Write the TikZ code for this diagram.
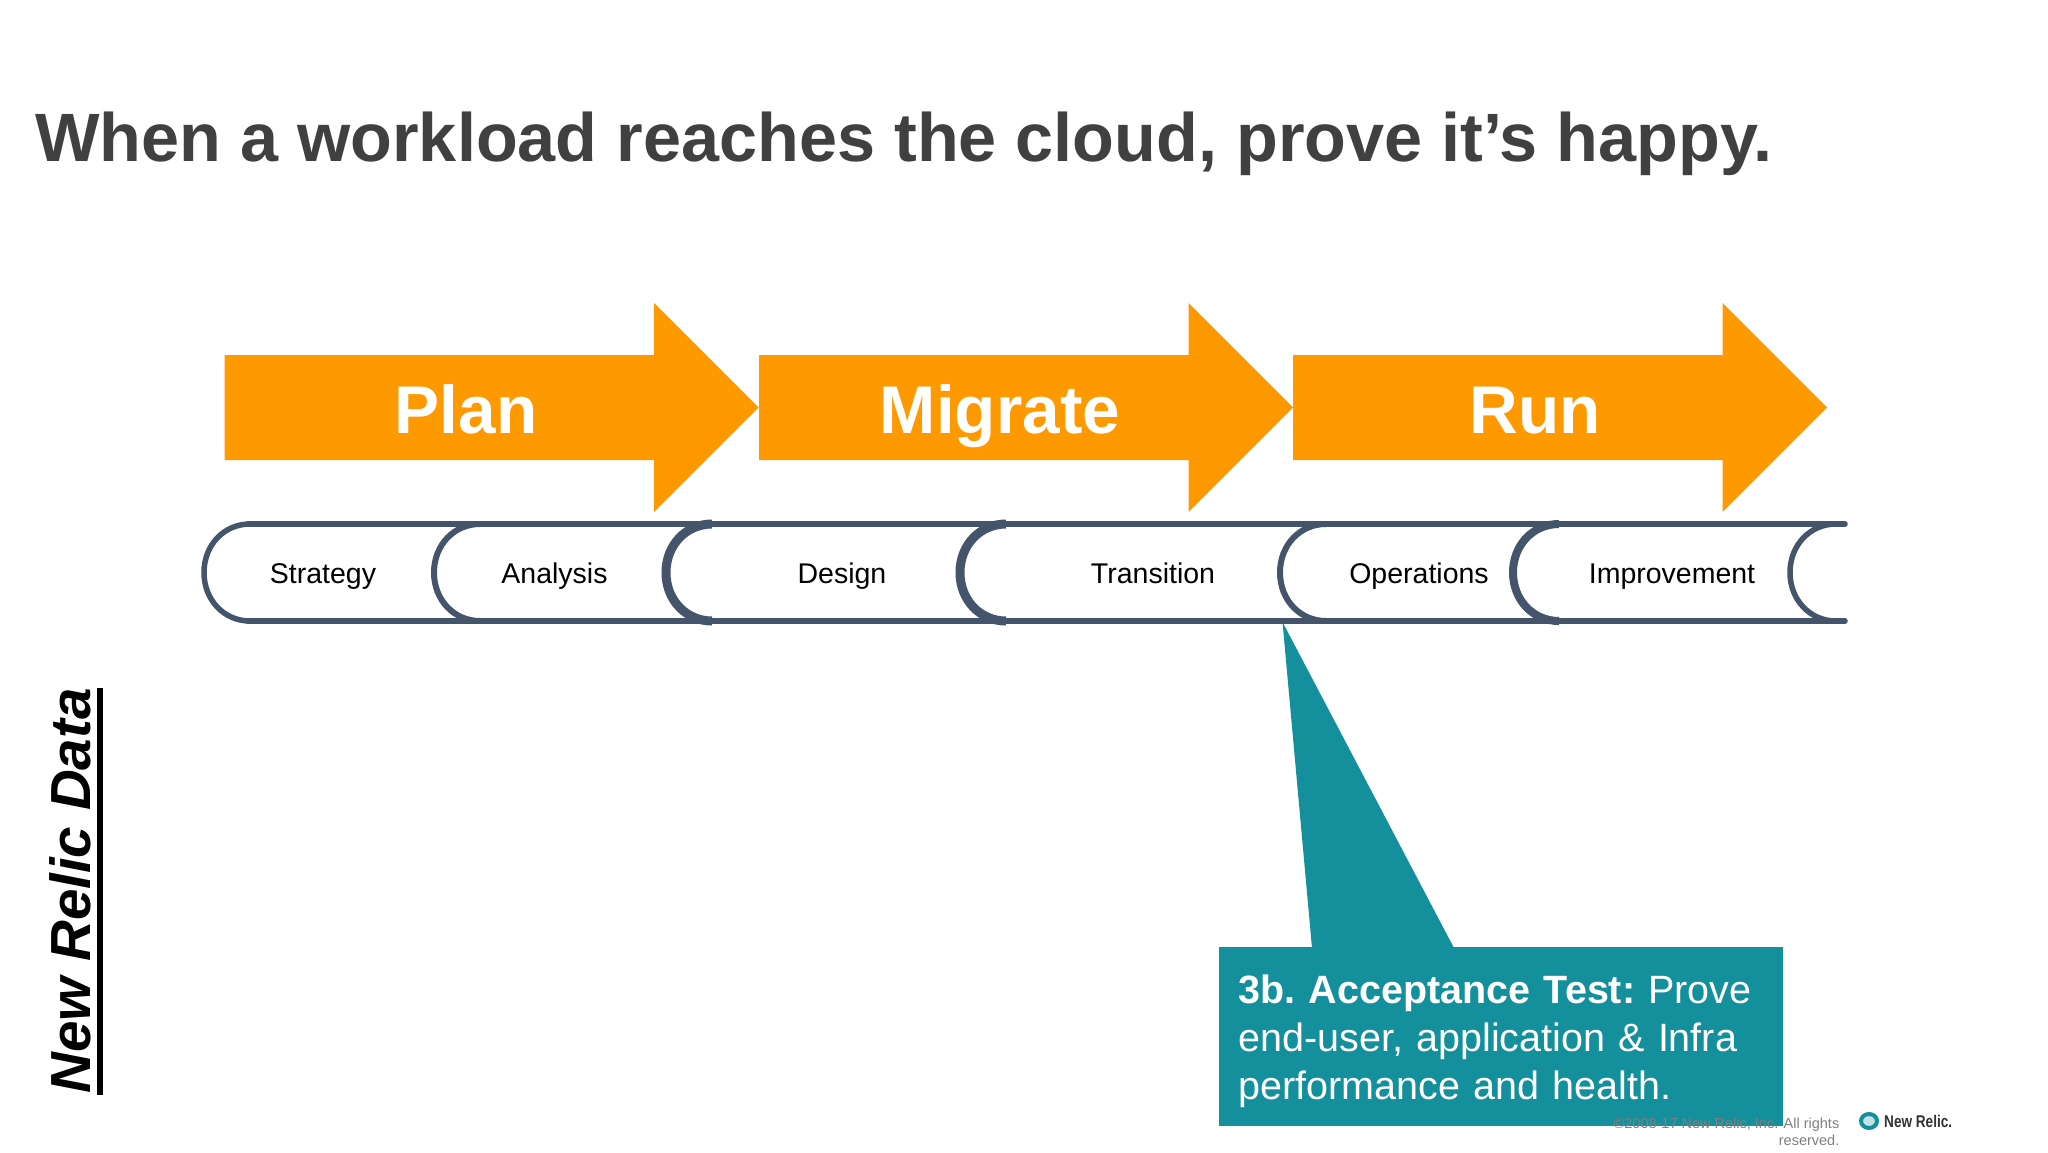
\documentclass[tikz,border=0pt]{standalone}
\usepackage{fontspec}
\setmainfont{Liberation Sans}
\definecolor{orangeA}{HTML}{FF9900}
\definecolor{tealA}{HTML}{148F9C}
\definecolor{slateA}{HTML}{44546A}
\definecolor{titleA}{HTML}{404040}
\tikzset{
  phase/.style={fill=orangeA,draw=none},
  phaselabel/.style={anchor=base,text=white,font=\fontsize{67.5}{70}\selectfont\bfseries,inner sep=0pt},
  scoop/.style={draw=slateA,line width=5.5pt,line cap=round},
  stage/.style={anchor=base,text=black,font=\fontsize{28.5}{32}\selectfont,inner sep=0pt},
}
\newcommand{\phasearrow}[4]{% left, name, label, center x
  \fill[phase] (#1,355) -- (#1+429.5,355) -- (#1+429.5,303) -- (#1+534,407.5) -- (#1+429.5,512) -- (#1+429.5,460) -- (#1,460) -- cycle;
  \node[phaselabel] (#2) at (#4,433) {#3};
}
\newcommand{\scoopleft}[2]{% x, extra width
  \draw[scoop,line cap=butt,line width=#2] (#1+46,524) .. controls (#1+20,524) and (#1,545) .. (#1,572.5) .. controls (#1,600) and (#1+20,621) .. (#1+46,621);
}
\begin{document}
\begin{tikzpicture}[x=1pt,y=-1pt]
\useasboundingbox (0,0) rectangle (2048,1152);
\fill[white] (0,0) rectangle (2048,1152);
\node[anchor=base west,inner sep=0pt,text=titleA,font=\fontsize{68.4}{70}\selectfont\bfseries] (title) at (35,161) {When a workload reaches the cloud, prove it’s happy.};
\phasearrow{224.6}{plan}{Plan}{466}
\phasearrow{759}{migrate}{Migrate}{1000}
\phasearrow{1293}{run}{Run}{1535}
% process band
\draw[scoop] (248,524) -- (1845,524);
\draw[scoop] (248,621) -- (1845,621);
\scoopleft{204}{5.5pt}
\scoopleft{434}{6pt}
\scoopleft{666}{9pt}
\scoopleft{960}{9pt}
\scoopleft{1280}{6pt}
\scoopleft{1513}{8pt}
\scoopleft{1790}{5.5pt}
\node[stage] (strategy) at (323,583) {Strategy};
\node[stage] (analysis) at (554.5,583) {Analysis};
\node[stage] (design) at (842,583) {Design};
\node[stage] (transition) at (1153,583) {Transition};
\node[stage] (operations) at (1419,583) {Operations};
\node[stage] (improvement) at (1672,583) {Improvement};
% side label
\node[rotate=90,anchor=base,inner sep=0pt,font=\fontsize{56.5}{60}\selectfont\bfseries\itshape,text=black] (side) at (90.5,891) {New Relic Data};
\fill[black] (97,688) rectangle (103,1095);
% callout
\coordinate (tip) at (1282.5,622);
\fill[tealA] (tip) -- (1454,948) -- (1312,948) -- cycle;
\node[anchor=north west,fill=tealA,minimum width=564.5pt,minimum height=179pt,inner sep=0pt] (box) at (1218.5,947) {};
\node[anchor=north west,inner sep=0pt,text=white,text width=560pt,align=left,font=\fontsize{39.5}{47.7}\selectfont\frenchspacing] (boxtext) at (1238.5,975) {\textbf{3b. Acceptance Test:} Prove\\end-user, application \& Infra\\performance and health.};
% footer
\node[anchor=base east,inner sep=0pt,text=black!50,font=\fontsize{14.5}{17}\selectfont] (copy1) at (1839.5,1128.5) {©2008-17 New Relic, Inc. All rights};
\node[anchor=base east,inner sep=0pt,text=black!50,font=\fontsize{14.5}{17}\selectfont] (copy2) at (1839.5,1145.5) {reserved.};
\draw[tealA,line width=4pt,fill=tealA!25] (1869,1121) ellipse [x radius=8pt,y radius=7pt];
\node[anchor=base west,inner sep=0pt,xscale=0.8,transform shape,text=black!80,font=\fontsize{17}{18}\selectfont\bfseries] (logo) at (1884,1127) {New Relic.};
\end{tikzpicture}
\end{document}
